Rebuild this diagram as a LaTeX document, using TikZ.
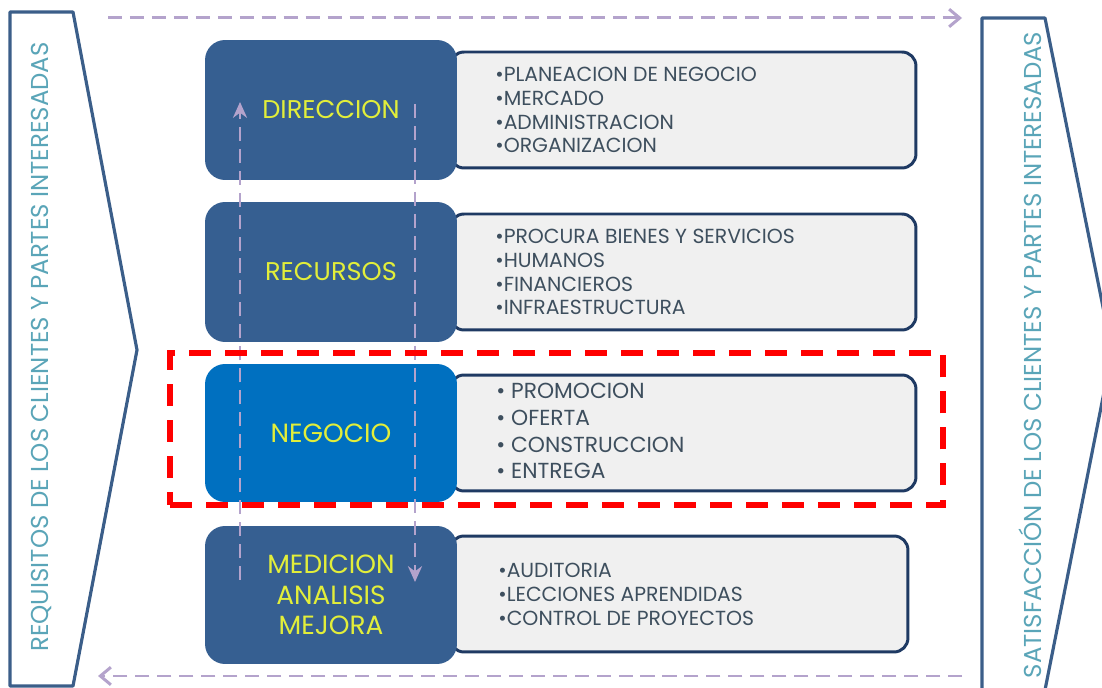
\documentclass[tikz,border=0pt]{standalone}
\usepackage{fontspec}
\setmainfont{Poppins}
\usetikzlibrary{arrows.meta}
\definecolor{navy}{HTML}{365F91}
\definecolor{brightblue}{HTML}{0070C0}
\definecolor{chev}{HTML}{3B5E89}
\definecolor{sidetxt}{HTML}{5AA5B8}
\definecolor{lav}{HTML}{B4A3CC}
\definecolor{ytxt}{HTML}{E2EE3A}
\definecolor{listtxt}{HTML}{3E4F5E}
\definecolor{boxfill}{HTML}{F0F0F0}
\definecolor{boxline}{HTML}{1F3A63}
\tikzset{
  block/.style={rounded corners=0.4cm, minimum width=5.04cm, minimum height=2.8cm, inner sep=0pt,
     text=ytxt, font=\fontsize{14.6}{17}\selectfont, align=center},
  listbox/.style={draw=boxline, line width=1.7pt, fill=boxfill, rounded corners=0.28cm,
     minimum height=2.32cm, inner sep=0pt},
  listtext/.style={anchor=west, align=left, text=listtxt, inner sep=0pt,
     font=\fontsize{11.6}{13.6}\selectfont},
  flow/.style={draw=lav, line width=1.7pt, dash pattern=on 8pt off 4.5pt},
  sidetext/.style={text=sidetxt, rotate=90, inner sep=0pt, font=\fontsize{13.9}{15}\selectfont}
}
\begin{document}
\begin{tikzpicture}[x=0.02cm,y=-0.02cm]
\useasboundingbox (0,0) rectangle (1102,688);
\fill[white] (0,0) rectangle (1102,688);

% chevrons
\draw[chev, line width=1.8pt, line join=round] (10,12) -- (73,12) -- (137,350) -- (73,686) -- (10,686) -- cycle;
\begin{scope}
\clip (0,0) rectangle (1102,688);
\draw[chev, line width=1.8pt, line join=round] (982,18) -- (1045,18) -- (1112,352) -- (1045,690) -- (982,690) -- cycle;
\end{scope}
\node[sidetext] (req) at (41,347) {REQUISITOS DE LOS CLIENTES Y PARTES INTERESADAS};
\node[sidetext, font=\fontsize{13.9}{15}\selectfont] (sat) at (1030,355) {SATISFACCIÓN DE LOS CLIENTES Y PARTES INTERESADAS};

% horizontal flow arrows
\coordinate (tl) at (108,18);
\coordinate (tr) at (962,18);
\coordinate (br) at (962,676);
\coordinate (bl) at (98,676);
\draw[flow, -{Straight Barb[length=6pt,width=10pt]}] (tl) -- (tr);
\draw[flow, -{Straight Barb[length=6pt,width=10pt]}] (br) -- (bl);

% list boxes
\node[listbox, minimum width=9.32cm] (l1) at (683,110) {};
\node[listbox, minimum width=9.32cm] (l2) at (683,272) {};
\node[listbox, minimum width=9.32cm] (l3) at (683,433) {};
\node[listbox, minimum width=9.16cm] (l4) at (679,594) {};

% blocks
\node[block, fill=navy] (b1) at (331,110) {DIRECCION};
\node[block, fill=navy] (b2) at (331,272) {RECURSOS};
\node[block, fill=brightblue, minimum height=2.76cm, font=\fontsize{15}{17}\selectfont] (b3) at (331,433) {NEGOCIO};
\node[block, fill=navy, minimum height=2.76cm, font=\fontsize{15}{17.5}\selectfont] (b4) at (331,595) {MEDICION\\ANALISIS\\MEJORA};

% list texts
\node[listtext] (t1) at (495,110) {•PLANEACION DE NEGOCIO\\•MERCADO\\•ADMINISTRACION\\•ORGANIZACION};
\node[listtext] (t2) at (495,272) {•PROCURA BIENES Y SERVICIOS\\•HUMANOS\\•FINANCIEROS\\•INFRAESTRUCTURA};
\node[listtext, font=\fontsize{12.4}{15.3}\selectfont] (t3) at (496,431) {• PROMOCION\\• OFERTA\\• CONSTRUCCION\\• ENTREGA};
\node[listtext] (t4) at (498,594) {•AUDITORIA\\•LECCIONES APRENDIDAS\\•CONTROL DE PROYECTOS};

% vertical flow arrows
\coordinate (u0) at (240,580);
\coordinate (u1) at (240,102);
\coordinate (d0) at (415,104);
\coordinate (d1) at (415,582);
\draw[flow, -{Stealth[length=9pt,width=8pt]}] (u0) -- (u1);
\draw[flow, -{Stealth[length=9pt,width=8pt]}] (d0) -- (d1);

% red highlight
\node[draw=red, line width=3.4pt, dash pattern=on 12.5pt off 8pt, minimum width=15.46cm, minimum height=3.04cm, inner sep=0pt] (hl) at (556.5,429) {};
\end{tikzpicture}
\end{document}
